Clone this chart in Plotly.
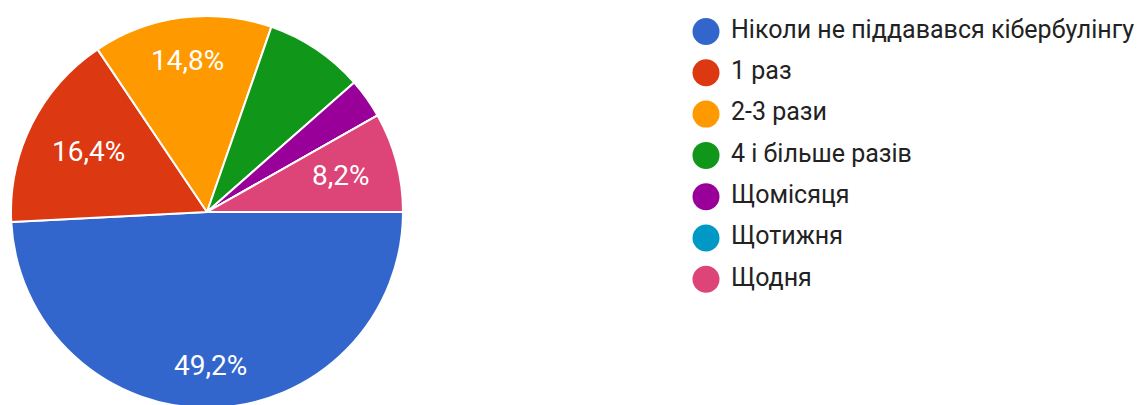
import math
import plotly.graph_objects as go

categories = ["Ніколи не піддавався кібербулінгу", "1 раз", "2-3 рази", "4 і більше разів",
              "Щомісяця", "Щотижня", "Щодня"]
counts = [30, 10, 9, 5, 2, 0, 5]
colors = ["#3366cc", "#dc3912", "#ff9900", "#109618", "#990099", "#0099c6", "#dd4477"]
show_label = [True, True, True, False, False, False, True]

total = sum(counts)
pct_text = [f"{c / total * 100:.1f}".replace(".", ",") + "%" for c in counts]

W, H = 1146, 405
OFF = 8              # page body margin of the exported html
cx, cy, r = 207 - OFF, 212 - OFF, 196
label_font = 28
legend_font = 25

fig = go.Figure()
fig.add_trace(go.Pie(
    labels=categories, values=counts, textinfo="none",
    sort=False, direction="clockwise", rotation=90,
    marker=dict(colors=colors, line=dict(color="white", width=2)),
    showlegend=False, hoverinfo="label+percent",
    domain=dict(x=[(cx - r) / W, (cx + r) / W], y=[(H - cy - r) / H, (H - cy + r) / H]),
))

# percentage labels placed along each slice bisector (Google-Charts style:
# text box pushed out until its far corner reaches 0.86 r)
annotations = []
start = 0.0
for c, txt, show in zip(counts, pct_text, show_label):
    span = c / total * 2 * math.pi
    mid = start + span / 2
    start += span
    if not show:
        continue
    ux, uy = math.cos(mid), math.sin(mid)
    hw = len(txt) * label_font * 0.25
    hh = label_font * 0.34
    R = 0.86 * r
    b = abs(ux) * hw + abs(uy) * hh
    d = -b + math.sqrt(b * b - (hw * hw + hh * hh - R * R))
    px, py = cx + d * ux, cy + d * uy - 1
    annotations.append(dict(
        x=px / W, y=1 - py / H, xref="paper", yref="paper", text=txt, showarrow=False,
        xanchor="center", yanchor="middle",
        font=dict(family="Roboto", size=label_font, color="white"),
    ))

# legend rows drawn as a scatter on hidden axes
rows = list(range(len(categories)))
fig.add_trace(go.Scatter(
    x=[0] * len(rows), y=rows, mode="markers",
    marker=dict(size=27, color=colors, line=dict(width=0)),
    showlegend=False, hoverinfo="skip", cliponaxis=False,
))
fig.add_trace(go.Scatter(
    x=[1] * len(rows), y=rows, mode="text", text=categories,
    textposition="middle right",
    textfont=dict(family="Roboto", size=legend_font, color="#222222"),
    showlegend=False, hoverinfo="skip", cliponaxis=False,
))

marker_x, unit = 706 - OFF, 25
row0, step = 31.5 - OFF, 41.3
fig.update_layout(
    width=W, height=H, margin=dict(l=0, r=0, t=0, b=0),
    paper_bgcolor="white", plot_bgcolor="white",
    annotations=annotations,
    xaxis=dict(visible=False, range=[-marker_x / unit, (W - marker_x) / unit], domain=[0, 1]),
    yaxis=dict(visible=False, range=[(H - row0) / step, -row0 / step], domain=[0, 1]),
)

fig.write_html("out.html")
